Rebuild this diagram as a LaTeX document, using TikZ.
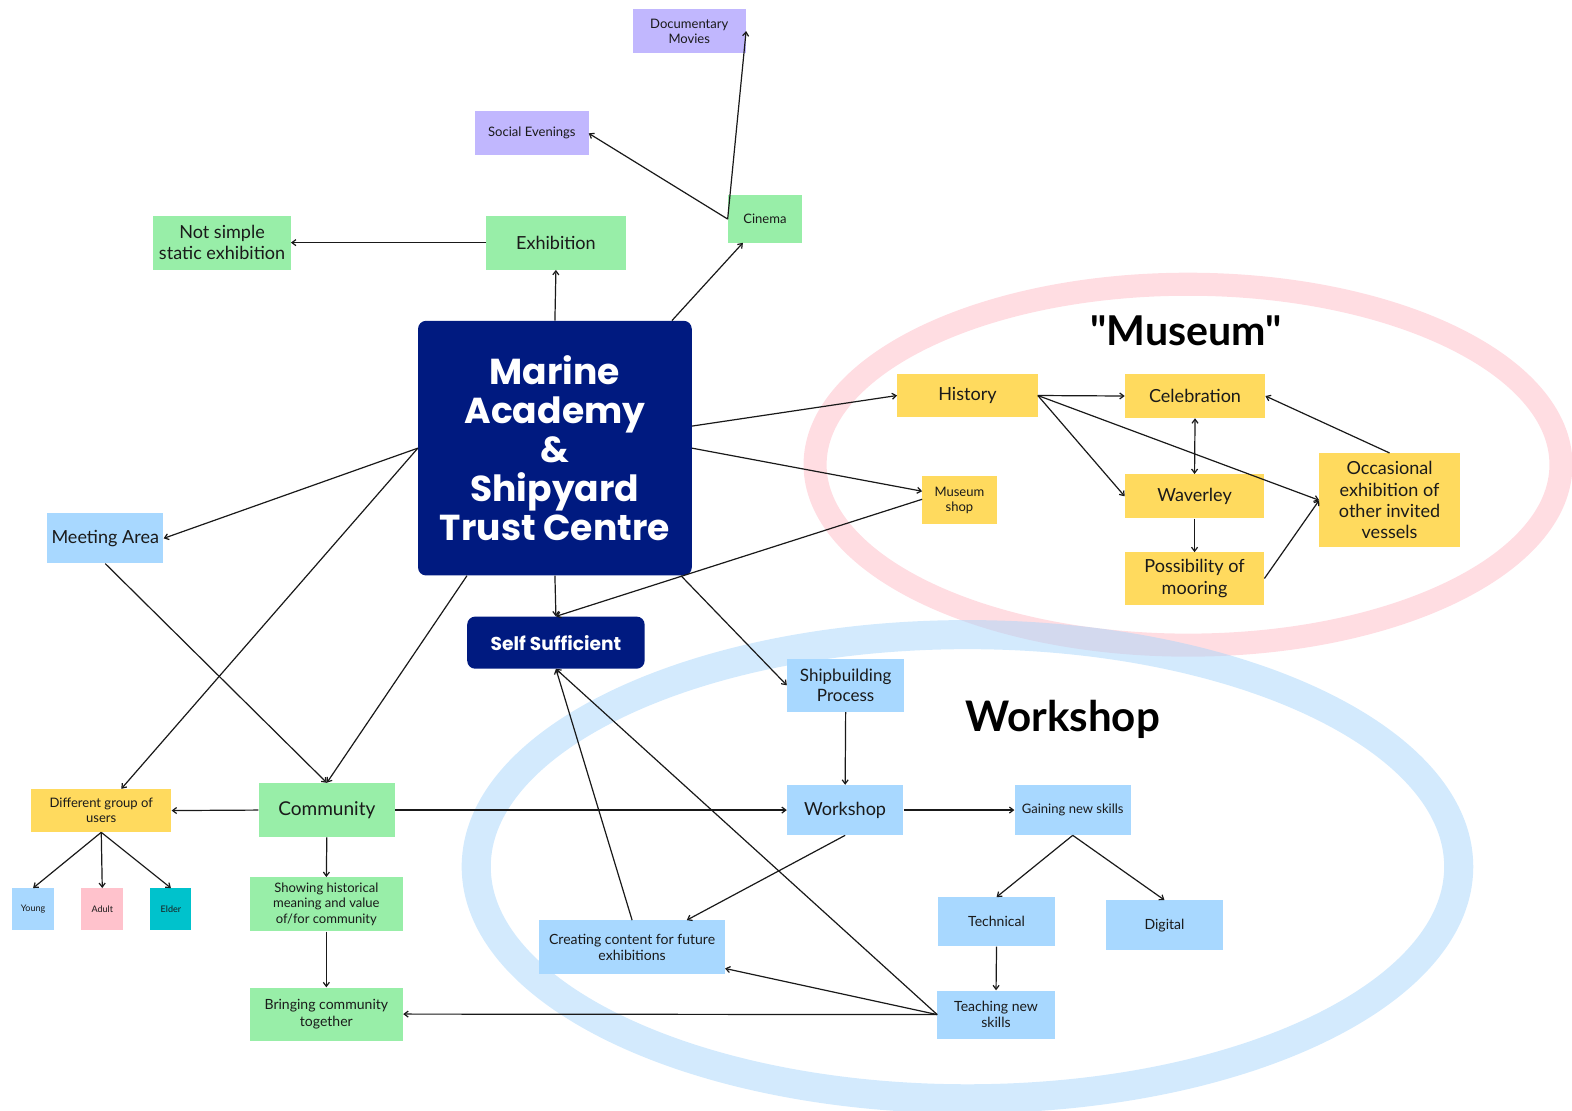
\documentclass[tikz,border=0pt]{standalone}
\usepackage{fontspec}
\setmainfont{Lato}
\newfontfamily\latoq{Lato}[Ligatures=TeXOff]
\newfontfamily\pop{Poppins}
\usetikzlibrary{arrows.meta}
\definecolor{cgreen}{HTML}{98EEA8}
\definecolor{cyellow}{HTML}{FFDA5E}
\definecolor{cblue}{HTML}{A8D8FF}
\definecolor{cpurple}{HTML}{C1B7FE}
\definecolor{cnavy}{HTML}{001A80}
\definecolor{cpinkbox}{HTML}{FFC2CC}
\definecolor{cteal}{HTML}{00C2CC}
\definecolor{cring}{HTML}{FFBBC6}
\definecolor{cbring}{HTML}{A7D5FB}
\definecolor{ctext}{HTML}{1A1A1A}
\tikzset{
  box/.style={fill=#1, draw=none, inner sep=2pt, align=center, text=ctext},
  navybox/.style={fill=cnavy, draw=none, rounded corners=8pt, align=center, text=white},
  fs/.style={font=\fontsize{#1}{\the\dimexpr#1pt*118/100\relax}\selectfont},
  conn/.style={line width=1.2pt, draw=black!90, -{Straight Barb[length=4pt,width=6pt]}},
  plain/.style={line width=1.2pt, draw=black!90},
}
\begin{document}
\begin{tikzpicture}[x=1pt,y=-1pt]
\useasboundingbox (0,0) rectangle (1568,1108);
% rings
\draw[cring, opacity=0.5, line width=23pt] (1185,463.5) ellipse [x radius=372, y radius=180];
\draw[cbring, opacity=0.5, line width=29pt] (965,864.5) ellipse [x radius=490, y radius=231.5];

% labels
\node[font=\latoq\bfseries\fontsize{41}{45}\selectfont] (lmus) at (1183,330) {"Museum"};
\node[font=\bfseries\fontsize{42}{46}\selectfont] (lws) at (1060,718) {Workshop};

% main nodes
\node[navybox, minimum width=273pt, minimum height=254pt, font=\pop\bfseries\fontsize{36}{39}\selectfont] (main) at (553.5,447) {Marine\\Academy\\\&\\Shipyard\\Trust Centre};
\node[navybox, minimum width=177pt, minimum height=52pt, font=\pop\bfseries\fontsize{18.6}{21}\selectfont] (ss) at (554.5,641) {Self Sufficient};

% green
\node[box=cgreen, minimum width=139pt, minimum height=54pt, fs=18] (exh) at (554.5,242) {Exhibition};
\node[box=cgreen, minimum width=137pt, minimum height=54pt, fs=18] (ns) at (221.5,242) {Not simple\\static exhibition};
\node[box=cgreen, minimum width=74pt, minimum height=47pt, fs=13] (cin) at (763,218.5) {Cinema};
\node[box=cgreen, minimum width=136pt, minimum height=54pt, fs=19] (comm) at (326,808) {Community};
\node[box=cgreen, minimum width=153pt, minimum height=54pt, fs=13] (show) at (325.5,902) {Showing historical\\meaning and value\\of/for community};
\node[box=cgreen, minimum width=153pt, minimum height=53pt, fs=14] (bring) at (325.5,1011.5) {Bringing community\\together};

% purple
\node[box=cpurple, minimum width=113pt, minimum height=44pt, fs=13] (se) at (530.5,133) {Social Evenings};
\node[box=cpurple, minimum width=113pt, minimum height=44pt, fs=13] (dm) at (687.5,31) {Documentary\\Movies};

% blue
\node[box=cblue, minimum width=116pt, minimum height=50pt, fs=18] (meet) at (105,537) {Meeting Area};
\node[box=cblue, minimum width=117pt, minimum height=53pt, fs=17] (ship) at (843.5,683.5) {Shipbuilding\\Process};
\node[box=cblue, minimum width=116pt, minimum height=50pt, fs=18] (ws) at (843,808) {Workshop};
\node[box=cblue, minimum width=116pt, minimum height=50pt, fs=13] (gain) at (1070,808) {Gaining new skills};
\node[box=cblue, minimum width=116pt, minimum height=49pt, fs=14] (tech) at (994,919.5) {Technical};
\node[box=cblue, minimum width=117pt, minimum height=50pt, fs=14] (dig) at (1161.5,923) {Digital};
\node[box=cblue, minimum width=117pt, minimum height=48pt, fs=14] (teach) at (993.5,1012) {Teaching new\\skills};
\node[box=cblue, minimum width=185pt, minimum height=54pt, fs=14] (create) at (630.5,945) {Creating content for future\\exhibitions};
\node[box=cblue, minimum width=42pt, minimum height=42pt, fs=9] (young) at (33,907) {Young};
\node[box=cpinkbox, minimum width=42pt, minimum height=42pt, fs=9] (adult) at (102,907) {Adult};
\node[box=cteal, minimum width=41pt, minimum height=42pt, fs=9] (elder) at (170.5,907) {Elder};

% yellow
\node[box=cyellow, minimum width=140pt, minimum height=43pt, fs=13] (dg) at (101,808.5) {Different group of\\users};
\node[box=cyellow, minimum width=140pt, minimum height=43pt, fs=18] (hist) at (965,394.5) {History};
\node[box=cyellow, minimum width=140pt, minimum height=44pt, fs=18] (cel) at (1192,395) {Celebration};
\node[box=cyellow, minimum width=74pt, minimum height=48pt, fs=13] (ms) at (957,499) {Museum\\shop};
\node[box=cyellow, minimum width=139pt, minimum height=44pt, fs=18] (wav) at (1191.5,495) {Waverley};
\node[box=cyellow, minimum width=139pt, minimum height=52pt, fs=18] (poss) at (1191.5,577) {Possibility of\\mooring};
\node[box=cyellow, minimum width=140pt, minimum height=94pt, fs=18] (occ) at (1386,499) {Occasional\\exhibition of\\other invited\\vessels};

% connectors
\draw[conn] (main.north) -- (exh.south);
\draw[conn] ([xshift=-20pt]main.north east) -- ([xshift=-22pt]cin.south);
\draw[conn] (exh.west) -- (ns.east);
\draw[conn] (cin.west) -- (se.east);
\draw[conn] (cin.west) -- (dm.east);
\draw[conn] ([yshift=22pt]main.east) -- (hist.west);
\draw[conn] (main.east) -- ([yshift=9pt]ms.west);
\draw[conn] ([yshift=1pt]ms.west) -- (ss.north);
\draw[conn] (main.south) -- (ss.north);
\draw[conn] ([xshift=-11pt]main.south east) -- (ship.west);
\draw[conn] (main.west) -- (meet.east);
\draw[conn] (main.west) -- ([xshift=20pt]dg.north);
\draw[conn] ([xshift=49pt]main.south west) -- (comm.north);
\draw[conn] (meet.south) -- (comm.north);
\draw[conn] (comm.west) -- (dg.east);
\draw[conn] (comm.east) -- (ws.west);
\draw[conn] (comm.south) -- (show.north);
\draw[conn] (show.south) -- (bring.north);
\draw[conn] (teach.west) -- (bring.east);
\draw[conn] (teach.west) -- ([yshift=-21pt]create.east);
\draw[conn] (teach.west) -- (ss.south);
\draw[conn] (create.north) -- (ss.south);
\draw[conn] (ws.south) -- ([xshift=54.5pt]create.north);
\draw[conn] (ship.south) -- (ws.north);
\draw[conn] (ws.east) -- (gain.west);
\draw[conn] (gain.south) -- (tech.north);
\draw[conn] (gain.south) -- (dig.north);
\draw[conn] (tech.south) -- (teach.north);
\draw[conn] (dg.south) -- (young.north);
\draw[conn] (dg.south) -- (adult.north);
\draw[conn] (dg.south) -- (elder.north);
\draw[conn] (hist.east) -- (cel.west);
\draw[conn] (hist.east) -- (wav.west);
\draw[conn] (hist.east) -- (occ.west);
\draw[conn, {Straight Barb[length=4pt,width=6pt]}-{Straight Barb[length=4pt,width=6pt]}] (cel.south) -- (wav.north);
\draw[conn] (wav.south) -- (poss.north);
\draw[conn] (poss.east) -- (occ.west);
\draw[conn] (occ.north) -- (cel.east);
\end{tikzpicture}
\end{document}
